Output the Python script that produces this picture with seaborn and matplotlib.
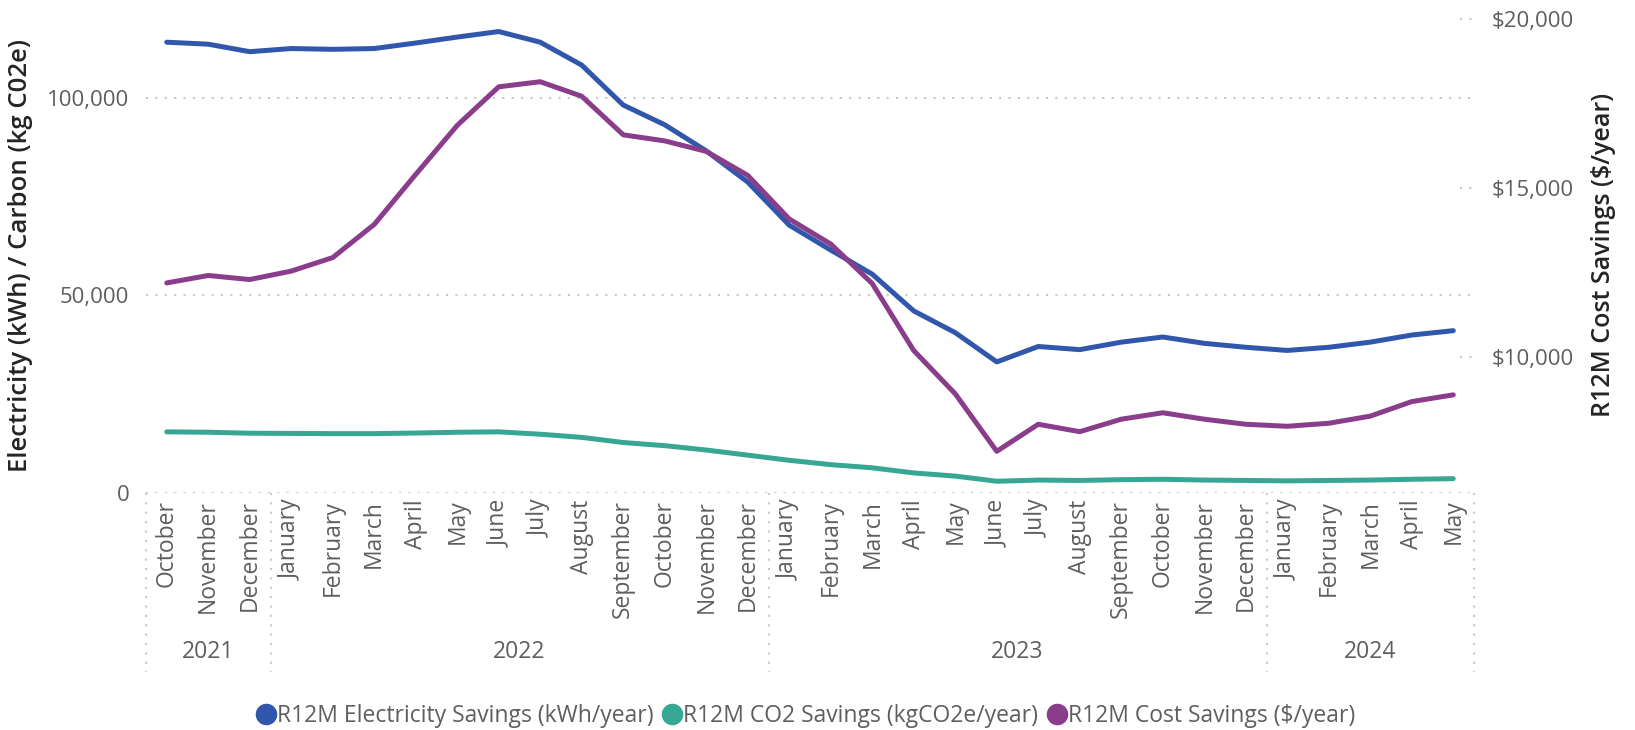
import matplotlib
matplotlib.use("Agg")
import matplotlib.pyplot as plt
import matplotlib.transforms as mtransforms
from matplotlib.lines import Line2D
from matplotlib.ticker import FuncFormatter
import pandas as pd
import seaborn as sns

# ---- data -------------------------------------------------------------
months = ["October", "November", "December",
          "January", "February", "March", "April", "May", "June", "July",
          "August", "September", "October", "November", "December",
          "January", "February", "March", "April", "May", "June", "July",
          "August", "September", "October", "November", "December",
          "January", "February", "March", "April", "May"]
years = [2021] * 3 + [2022] * 12 + [2023] * 12 + [2024] * 5

electricity_kwh = [114000, 113500, 111600,
                   112400, 112200, 112400, 113800, 115300, 116700, 114000,
                   108200, 98100, 93100, 86500, 78600,
                   67700, 61400, 55300, 46000, 40500, 33100, 37000,
                   36200, 38100, 39400, 37800, 36800,
                   36000, 36800, 38100, 39900, 41000]
co2_kg = [15400, 15300, 15050,
          15000, 14950, 14950, 15100, 15300, 15400, 14800,
          14000, 12700, 11900, 10800, 9500,
          8200, 7100, 6300, 5000, 4200, 2900, 3200,
          3100, 3300, 3400, 3200, 3100,
          3000, 3100, 3200, 3400, 3550]
cost_usd = [12180, 12400, 12280,
            12530, 12930, 13910, 15390, 16840, 17980, 18130,
            17700, 16560, 16380, 16070, 15360,
            14070, 13330, 12160, 10180, 8900, 7200, 8000,
            7780, 8150, 8340, 8150, 8000,
            7940, 8030, 8240, 8670, 8870]

series_labels = ["R12M Electricity Savings (kWh/year)",
                 "R12M CO2 Savings (kgCO2e/year)",
                 "R12M Cost Savings ($/year)"]

# ---- style ------------------------------------------------------------
BLUE, TEAL, PURPLE = "#3157AD", "#37A793", "#8A3D8B"
TICK_GREY = "#605E5C"
GRID_GREY = "#C8C8C8"
DOTS = (0, (1, 3.5))

sns.set_theme(style="white")
plt.rcParams["font.family"] = ["Open Sans", "DejaVu Sans"]

df = pd.DataFrame({"pos": range(len(months)),
                   "electricity": electricity_kwh,
                   "co2": co2_kg,
                   "cost": cost_usd})

W, H = 1635, 730
fig = plt.figure(figsize=(W / 100, H / 100), dpi=100)
ax = fig.add_axes([146 / W, 1 - 492.7 / H, 1328 / W, 474.2 / H])

sns.lineplot(data=df, x="pos", y="electricity", ax=ax, color=BLUE,
             linewidth=3.6, solid_capstyle="round", solid_joinstyle="round")
sns.lineplot(data=df, x="pos", y="co2", ax=ax, color=TEAL,
             linewidth=3.6, solid_capstyle="round", solid_joinstyle="round")

ax2 = ax.twinx()
sns.lineplot(data=df, x="pos", y="cost", ax=ax2, color=PURPLE,
             linewidth=3.6, solid_capstyle="round", solid_joinstyle="round")

# ---- axes ---------------------------------------------------------------
ax.set_xlim(-0.5, len(months) - 0.5)
ax.set_ylim(0, 120000)
ax2.set_ylim(5976, 20000)

ax.set_yticks([0, 50000, 100000])
ax.yaxis.set_major_formatter(FuncFormatter(lambda v, _: f"{v:,.0f}"))
ax2.set_yticks([10000, 15000, 20000])
ax2.yaxis.set_major_formatter(FuncFormatter(lambda v, _: f"${v:,.0f}"))

ax.set_xticks(range(len(months)))
ax.set_xticklabels(months, rotation=90, ha="center", va="top")

for a in (ax, ax2):
    a.set_xlabel("")
    a.set_ylabel("")
    for s in a.spines.values():
        s.set_visible(False)

ax.tick_params(axis="x", length=0, pad=5, labelsize=16.5, labelcolor=TICK_GREY)
ax.tick_params(axis="y", length=0, pad=12, labelsize=16, labelcolor=TICK_GREY)
ax2.tick_params(axis="y", length=0, pad=13, labelsize=16, labelcolor=TICK_GREY)

ax.grid(axis="y", color=GRID_GREY, linestyle=DOTS, linewidth=1.5)
ax.grid(axis="x", visible=False)
ax2.grid(False)

# short dotted markers next to the secondary axis labels
stub_tr = mtransforms.blended_transform_factory(ax2.transAxes, ax2.transData)
for v in ax2.get_yticks():
    ax2.plot([0.9895, 0.999], [v, v], transform=stub_tr, color=GRID_GREY,
             linestyle=DOTS, linewidth=1.5, clip_on=False)

# ---- year level of the category axis ------------------------------------
xtr = mtransforms.blended_transform_factory(ax.transData, ax.transAxes)
bounds = [-0.5]
for i in range(1, len(years)):
    if years[i] != years[i - 1]:
        bounds.append(i - 0.5)
bounds.append(len(years) - 0.5)

for b in bounds:
    ax.add_line(Line2D([b, b], [0, -0.378], transform=xtr, color=GRID_GREY,
                       linestyle=DOTS, linewidth=1.5, clip_on=False))

for y in sorted(set(years)):
    idx = [i for i, yy in enumerate(years) if yy == y]
    ax.text((idx[0] + idx[-1]) / 2, -0.336, str(y), transform=xtr,
            ha="center", va="center", fontsize=16.5, color=TICK_GREY)

# ---- axis titles ---------------------------------------------------------
fig.text(21 / W, 1 - 255 / H, "Electricity (kWh) / Carbon (kg C02e)",
         rotation=90, ha="center", va="center", fontsize=18.5,
         fontweight="semibold", color="#252423")
fig.text(1603 / W, 1 - 255 / H, "R12M Cost Savings ($/year)",
         rotation=90, ha="center", va="center", fontsize=18,
         fontweight="semibold", color="#252423")

# ---- legend ------------------------------------------------------------
handles = [Line2D([], [], marker="o", linestyle="", markersize=14.5, color=c)
           for c in (BLUE, TEAL, PURPLE)]
fig.legend(handles, series_labels, loc="center", bbox_to_anchor=(0.493, 0.019),
           ncol=3, frameon=False, fontsize=16.5, labelcolor=TICK_GREY,
           handlelength=0.75, handletextpad=0.1, columnspacing=0.45,
           borderpad=0, borderaxespad=0)

fig.savefig("out.png", dpi=100)
